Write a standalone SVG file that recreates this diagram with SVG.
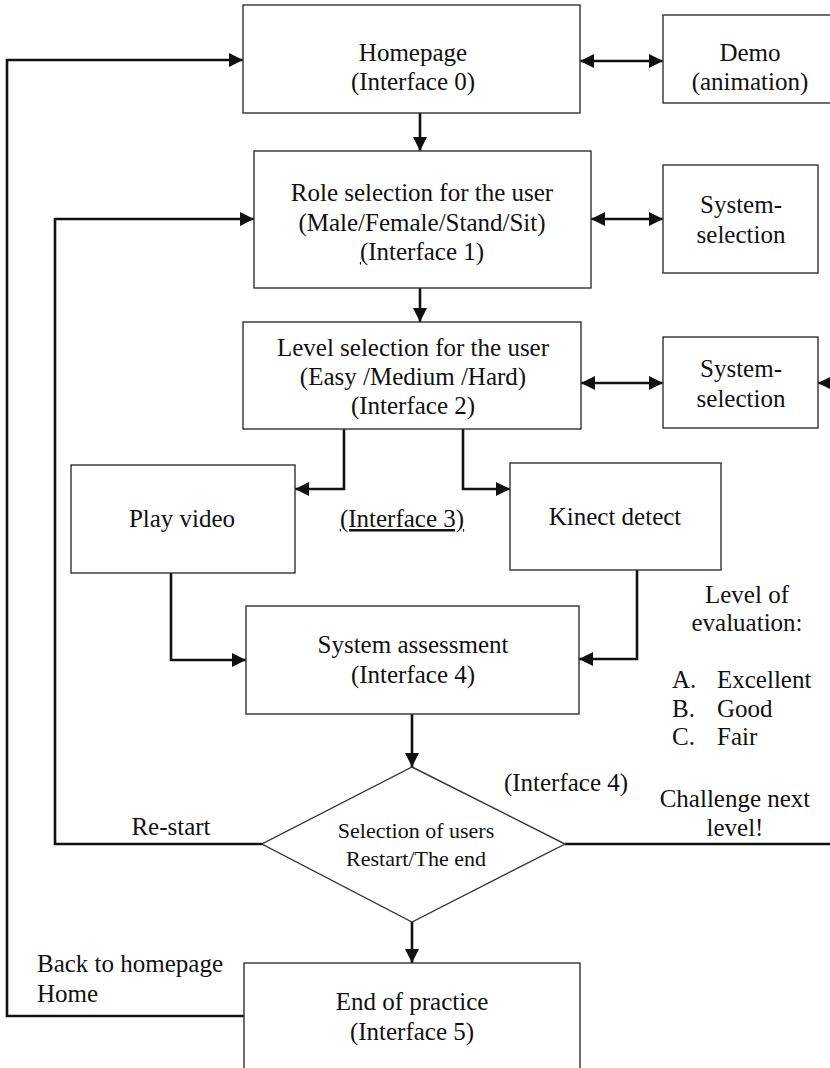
<svg xmlns="http://www.w3.org/2000/svg" width="830" height="1068" viewBox="0 0 830 1068">
  <defs>
    <marker id="arrow" markerUnits="userSpaceOnUse" markerWidth="15" markerHeight="14" refX="14" refY="7" orient="auto-start-reverse">
      <path d="M0,0 L14,7 L0,14 z" fill="#111"/>
    </marker>
    <style>
      .box { fill: #fff; stroke: #333; stroke-width: 1.4; }
      .wire { fill: none; stroke: #111; stroke-width: 2.6; }
      .one { marker-end: url(#arrow); }
      .two { marker-start: url(#arrow); marker-end: url(#arrow); }
      text { font-family: "Liberation Serif", "Times New Roman", serif; font-size: 25px; fill: #111; }
      .c { text-anchor: middle; }
      .small { font-size: 22px; }
    </style>
  </defs>

  <rect width="830" height="1068" fill="#fff"/>

  <!-- connectors -->
  <g id="connectors">
    <path class="wire one" d="M244,1016 H7 V60 H243"/>
    <path class="wire one" d="M262,844 H55 V219 H254"/>
    <line class="wire two" x1="580" y1="61" x2="663" y2="61"/>
    <line class="wire one" x1="420" y1="113" x2="420" y2="151"/>
    <line class="wire two" x1="591" y1="219" x2="663" y2="219"/>
    <line class="wire one" x1="420" y1="288" x2="420" y2="322"/>
    <line class="wire two" x1="581" y1="383" x2="663" y2="383"/>
    <line class="wire one" x1="836" y1="383" x2="818" y2="383"/>
    <path class="wire one" d="M344,429 V489 H295"/>
    <path class="wire one" d="M463,429 V489 H510"/>
    <path class="wire one" d="M171,573 V660 H246"/>
    <path class="wire one" d="M637,570 V659 H579"/>
    <line class="wire one" x1="412" y1="714" x2="412" y2="767"/>
    <line class="wire" x1="565" y1="844" x2="836" y2="844"/>
    <line class="wire one" x1="412" y1="922" x2="412" y2="963"/>
  </g>

  <!-- nodes -->
  <g id="homepage">
    <rect class="box" x="243" y="5" width="337" height="108"/>
    <text class="c" x="413" y="61">Homepage</text>
    <text class="c" x="413" y="90">(Interface 0)</text>
  </g>

  <g id="demo">
    <rect class="box" x="663" y="15" width="180" height="88"/>
    <text class="c" x="750" y="61">Demo</text>
    <text class="c" x="750" y="90">(animation)</text>
  </g>

  <g id="role-selection">
    <rect class="box" x="254" y="151" width="337" height="137"/>
    <text class="c" x="422" y="201">Role selection for the user</text>
    <text class="c" x="422" y="231">(Male/Female/Stand/Sit)</text>
    <text class="c" x="422" y="260"><tspan text-decoration="underline">(</tspan>Interface 1)</text>
  </g>

  <g id="system-selection-1">
    <rect class="box" x="663" y="165" width="155" height="108"/>
    <text class="c" x="741" y="213">System-</text>
    <text class="c" x="741" y="243">selection</text>
  </g>

  <g id="level-selection">
    <rect class="box" x="243" y="322" width="338" height="107"/>
    <text class="c" x="413" y="356">Level selection for the user</text>
    <text class="c" x="413" y="385">(Easy /Medium /Hard)</text>
    <text class="c" x="413" y="414">(Interface 2)</text>
  </g>

  <g id="system-selection-2">
    <rect class="box" x="663" y="337" width="155" height="91"/>
    <text class="c" x="741" y="377">System-</text>
    <text class="c" x="741" y="407">selection</text>
  </g>

  <g id="play-video">
    <rect class="box" x="71" y="465" width="224" height="108"/>
    <text class="c" x="182" y="527">Play video</text>
  </g>

  <g id="interface-3">
    <text class="c" x="402" y="527" text-decoration="underline">(Interface 3)</text>
  </g>

  <g id="kinect-detect">
    <rect class="box" x="510" y="463" width="211" height="107"/>
    <text class="c" x="615" y="525">Kinect detect</text>
  </g>

  <g id="evaluation-levels">
    <text class="c" x="747" y="603">Level of</text>
    <text class="c" x="747" y="631">evaluation:</text>
    <text x="672" y="688">A.</text>
    <text x="717" y="688">Excellent</text>
    <text x="672" y="717">B.</text>
    <text x="717" y="717">Good</text>
    <text x="672" y="745">C.</text>
    <text x="717" y="745">Fair</text>
  </g>

  <g id="system-assessment">
    <rect class="box" x="246" y="606" width="333" height="108"/>
    <text class="c" x="413" y="653">System assessment</text>
    <text class="c" x="413" y="683">(Interface 4)</text>
  </g>

  <g id="user-selection">
    <polygon class="box" points="412,767 565,844 412,922 262,844"/>
    <text class="c small" x="416" y="838">Selection of users</text>
    <text class="c small" x="416" y="866">Restart/The end</text>
  </g>

  <g id="edge-labels">
    <text class="c" x="566" y="791">(Interface 4)</text>
    <text class="c" x="171" y="835">Re-start</text>
    <text class="c" x="735" y="807">Challenge next</text>
    <text class="c" x="735" y="836">level!</text>
    <text x="37" y="972">Back to homepage</text>
    <text x="37" y="1002">Home</text>
  </g>

  <g id="end-of-practice">
    <rect class="box" x="244" y="963" width="336" height="120"/>
    <text class="c" x="412" y="1010">End of practice</text>
    <text class="c" x="412" y="1040">(Interface 5)</text>
  </g>
</svg>
